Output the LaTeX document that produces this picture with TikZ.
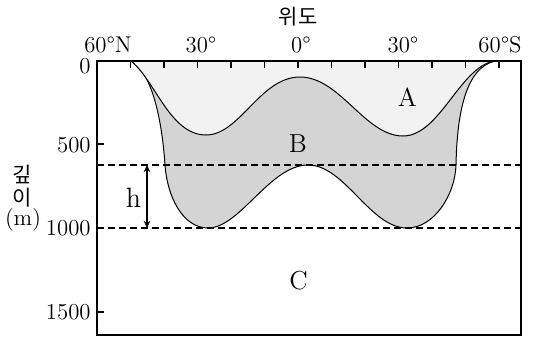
\documentclass[tikz,border=0pt]{standalone}
\usepackage{fontspec}
\newfontfamily\krfont{Noto Sans CJK KR}
\usepackage{tikz}
\usetikzlibrary{arrows.meta}
\definecolor{layerAfill}{gray}{0.95}
\definecolor{layerBfill}{gray}{0.83}
\tikzset{
  frameLine/.style={line width=.65pt},
  seaLine/.style={line width=.5pt,line join=round},
  aLayer/.style={seaLine,fill=layerAfill},
  bLayer/.style={seaLine,fill=layerBfill},
  depthLine/.style={line width=.55pt,dash pattern=on 3.5pt off 2pt},
  hArrow/.style={line width=.6pt,{Stealth[length=3.6pt,width=3.3pt]}-{Stealth[length=3.6pt,width=3.3pt]}},
  numLab/.style={inner sep=0pt,font=\fontsize{11.4}{13}\selectfont},
  krLab/.style={inner sep=0pt,font=\krfont\fontsize{10.5}{12}\selectfont},
  layerLab/.style={inner sep=0pt,font=\fontsize{13}{15}\selectfont},
}
\begin{document}
\begin{tikzpicture}[x=.5pt,y=-.5pt]
\useasboundingbox (0,0) rectangle (534,337);
\draw[bLayer] (131,61) .. controls (152,72) and (162,120) .. (165,165)
  .. controls (167,195) and (182,228) .. (208,228)
  .. controls (240,228) and (270,165) .. (308,165)
  .. controls (345,165) and (370,228) .. (407,228)
  .. controls (434,228) and (455,195) .. (456,165)
  .. controls (457,115) and (465,68) .. (495,61) -- cycle;
\draw[aLayer] (131,61) .. controls (155,80) and (170,135) .. (206,135)
  .. controls (240,135) and (260,77) .. (300,77)
  .. controls (340,77) and (365,136) .. (403,136)
  .. controls (440,136) and (460,66) .. (495,61) -- cycle;
\draw[depthLine] (97,165) -- (521,165);
\draw[depthLine] (97,228) -- (521,228);
\draw[frameLine] (97,61) rectangle (521,335);
\foreach \k in {0,...,11}
  \draw[frameLine] (130.5+33.5*\k,61) -- ++(0,6.5);
\foreach \d in {144,228,312}
  \draw[frameLine] (97,\d) -- ++(6.5,0);
\node[krLab] (latTitle) at (298,17) {위도};
\node[numLab] (lat60N) at (108,45) {60°N};
\node[numLab] (lat30N) at (201,45) {30°};
\node[numLab] (lat0)   at (301,45) {0°};
\node[numLab] (lat30S) at (403,45) {30°};
\node[numLab] (lat60S) at (500,45) {60°S};
\node[numLab,anchor=east] (dep0)    at (91,66.5) {0};
\node[numLab,anchor=east] (dep500)  at (91,145) {500};
\node[numLab,anchor=east] (dep1000) at (91,228) {1000};
\node[numLab,anchor=east] (dep1500) at (91,312) {1500};
\node[krLab] (depTitleA) at (22,174) {깊};
\node[krLab] (depTitleB) at (22,197.5) {이};
\node[numLab,font=\fontsize{11.4}{13}\selectfont] (depUnit) at (23,220) {(m)};
\node[layerLab] (layerA) at (407.5,97.5) {A};
\node[layerLab] (layerB) at (298,144) {B};
\node[layerLab] (layerC) at (298.5,281) {C};
\coordinate (hTop) at (147,165);
\coordinate (hBot) at (147,228);
\draw[hArrow] (hTop) -- (hBot);
\node[inner sep=0pt,font=\fontsize{14}{16}\selectfont] (hLab) at (133.5,197.5) {h};
\end{tikzpicture}
\end{document}
